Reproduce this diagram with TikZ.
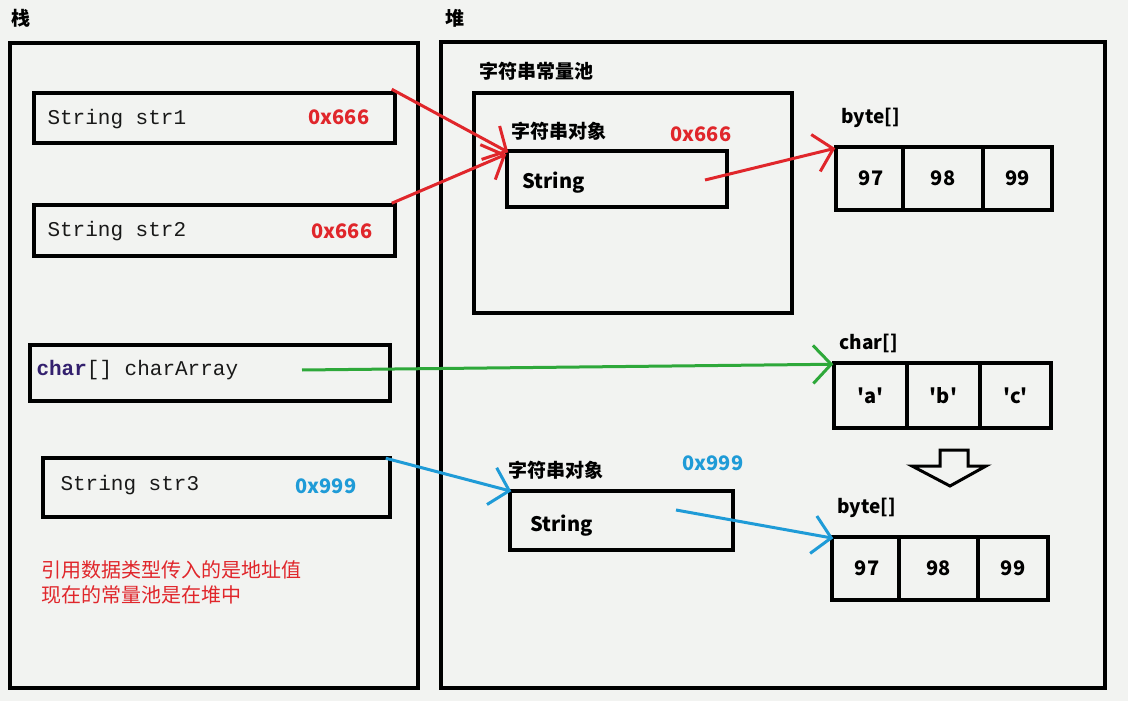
\documentclass[tikz,border=0pt]{standalone}
\usepackage{fontspec}
\setmainfont{Noto Sans CJK SC}
\setmonofont{Liberation Mono}
\usepackage{tikz}
\usetikzlibrary{arrows.meta,positioning}
\definecolor{bgc}{HTML}{F2F3F1}
\definecolor{redc}{HTML}{E0262B}
\definecolor{greenc}{HTML}{2EA83A}
\definecolor{bluec}{HTML}{1F9BD7}
\definecolor{kwc}{HTML}{33206E}
\newcommand{\sq}[1]{\textquotesingle#1\textquotesingle}
\tikzset{
  box/.style={draw=black,line width=3.5pt,inner sep=0pt},
  cell/.style={box,minimum height=63pt,font=\bfseries\fontsize{20}{20}\selectfont},
  code/.style={anchor=west,font=\ttfamily\fontsize{21}{21}\selectfont,text=black!90},
  addr/.style={anchor=west,font=\bfseries\fontsize{20}{20}\selectfont},
  lbl/.style={anchor=west,font=\bfseries\fontsize{19}{19}\selectfont},
  ar/.style={line width=3pt,-{Straight Barb[length=18pt,width=38pt]}}
}
\begin{document}
\begin{tikzpicture}[x=1pt,y=-1pt]
\fill[bgc] (0,0) rectangle (1128,701);
% stack side
\node[lbl] (zhan) at (8,18) {栈};
\node[box,minimum width=408pt,minimum height=645pt] (stack) at (214,365.5) {};
\node[box,minimum width=361pt,minimum height=50pt] (str1) at (214.5,118) {};
\node[box,minimum width=361pt,minimum height=51pt] (str2) at (214.5,230.5) {};
\node[box,minimum width=360pt,minimum height=56pt] (chars) at (210,373) {};
\node[box,minimum width=347pt,minimum height=59pt] (str3) at (216.5,487.5) {};
\node[code] (t1) at (44,119) {String str1};
\node[addr,redc] (a1) at (305,117) {0x666};
\node[code] (t2) at (44,231) {String str2};
\node[addr,redc] (a2) at (308,231) {0x666};
\node[code] (tc) at (33,370) {\textcolor{kwc}{\bfseries char}[] charArray};
\node[code] (t3) at (57,485) {String str3};
\node[addr,bluec] (a3) at (292,486) {0x999};
\node[anchor=west,redc,font=\fontsize{20}{25}\selectfont,align=left] (note) at (38,582)
  {引用数据类型传入的是地址值\\现在的常量池是在堆中};
% heap side
\node[lbl] (dui) at (442,18) {堆};
\node[box,minimum width=664pt,minimum height=646pt] (heap) at (773,365) {};
\node[lbl] (poolt) at (476,71) {字符串常量池};
\node[box,minimum width=318pt,minimum height=220pt] (pool) at (633,203) {};
\node[lbl] (obj1t) at (508,131) {字符串对象};
\node[addr,redc] (a4) at (667,134) {0x666};
\node[box,minimum width=220pt,minimum height=56pt] (obj1) at (617,179) {};
\node[addr] (s1) at (519,183) {String};
\node[lbl] (b1t) at (838,118) {byte[]};
\node[cell,minimum width=67pt] (b1a) at (869.5,178.5) {\,97};
\node[cell,minimum width=80pt] (b1b) at (943,178.5) {98};
\node[cell,minimum width=69pt] (b1c) at (1017.5,178.5) {99};
\node[lbl] (ct) at (836,343) {char[]};
\node[cell,minimum width=73pt,minimum height=65pt] (ca) at (870.5,395.5) {\sq{a}};
\node[cell,minimum width=73pt,minimum height=65pt] (cb) at (943.5,395.5) {\sq{b}};
\node[cell,minimum width=71pt,minimum height=65pt] (cc) at (1015.5,395.5) {\sq{c}};
\draw[line width=3pt,fill=bgc] (940,450) -- (968,450) -- (968,466) -- (986,466)
  -- (950,486) -- (912,466) -- (940,466) -- cycle;
\node[lbl] (obj2t) at (505,470) {字符串对象};
\node[addr,bluec] (a5) at (679,463) {0x999};
\node[box,minimum width=223pt,minimum height=59pt] (obj2) at (621.5,520.5) {};
\node[addr] (s2) at (527,526) {String};
\node[lbl] (b2t) at (834,508) {byte[]};
\node[cell,minimum width=67pt] (b2a) at (865.5,568.5) {\,97};
\node[cell,minimum width=79pt] (b2b) at (938.5,568.5) {98};
\node[cell,minimum width=70pt] (b2c) at (1013,568.5) {99};
% references
\coordinate (o1) at (705,180);
\coordinate (o2) at (676,510);
\coordinate (cs) at (302,370);
\draw[ar,redc] ([shift={(-5,-2)}]str1.north east) -- ([shift={(3,3)}]obj1.north west);
\draw[ar,redc] ([shift={(-5,0)}]str2.north east) -- ([shift={(1,5)}]obj1.north west);
\draw[ar,redc] (o1) -- ([shift={(1,3)}]b1a.north west);
\draw[ar,greenc] (cs) -- ([shift={(1,3)}]ca.north west);
\draw[ar,bluec] ([shift={(-6,2)}]str3.north east) -- ([shift={(3,2)}]obj2.north west);
\draw[ar,bluec] (o2) -- ([shift={(3,3)}]b2a.north west);
\end{tikzpicture}
\end{document}
